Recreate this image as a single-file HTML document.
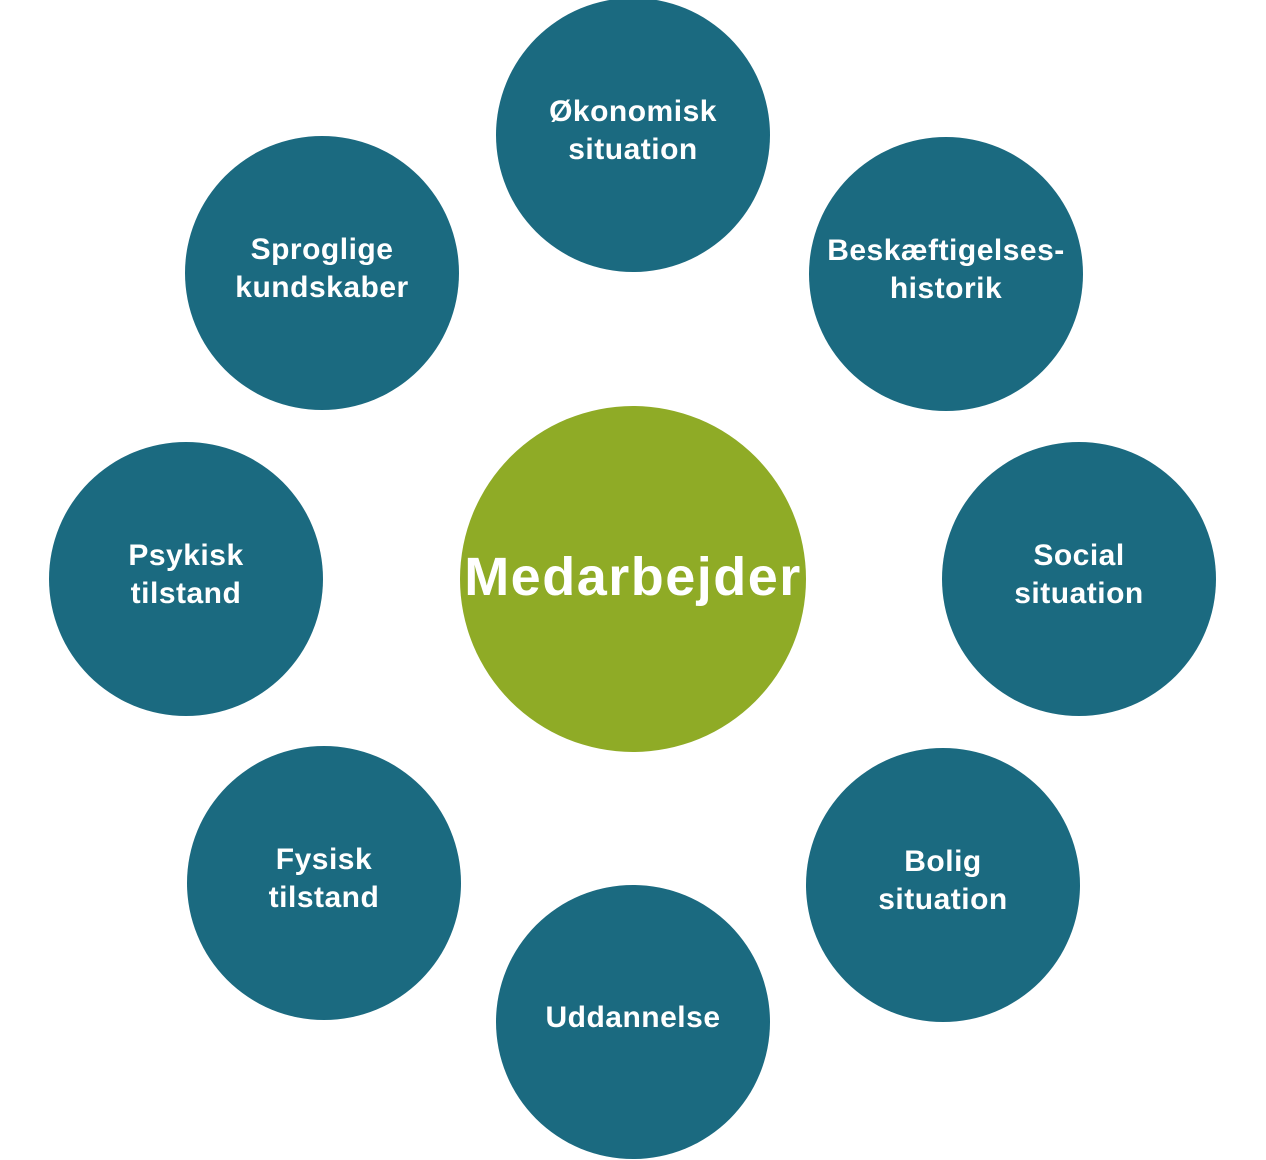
<!DOCTYPE html>
<html><head><meta charset="utf-8"><style>
body{margin:0;width:1266px;height:1160px;background:#fff;position:relative;overflow:hidden;font-family:"Liberation Sans","DejaVu Sans",sans-serif}
.c{position:absolute;width:274px;height:274px;border-radius:50%;background:#1b6a80;color:#fff;font-weight:bold;font-size:30px;line-height:38px;display:flex;align-items:center;justify-content:center;text-align:center;letter-spacing:0.5px;box-sizing:border-box;padding-bottom:8px}
.m{position:absolute;left:460px;top:406px;width:346px;height:346px;border-radius:50%;background:#8fab26;color:#fff;font-weight:bold;font-size:54px;display:flex;align-items:center;justify-content:center;letter-spacing:1.5px;box-sizing:border-box;padding-bottom:4px}
</style></head><body>
<div class="c" style="left:496px;top:-2px">Økonomisk<br>situation</div>
<div class="c" style="left:809px;top:137px">Beskæftigelses-<br>historik</div>
<div class="c" style="left:185px;top:136px">Sproglige<br>kundskaber</div>
<div class="c" style="left:49px;top:442px">Psykisk<br>tilstand</div>
<div class="c" style="left:942px;top:442px">Social<br>situation</div>
<div class="c" style="left:187px;top:746px">Fysisk<br>tilstand</div>
<div class="c" style="left:806px;top:748px">Bolig<br>situation</div>
<div class="c" style="left:496px;top:885px">Uddannelse</div>
<div class="m">Medarbejder</div>
</body></html>
